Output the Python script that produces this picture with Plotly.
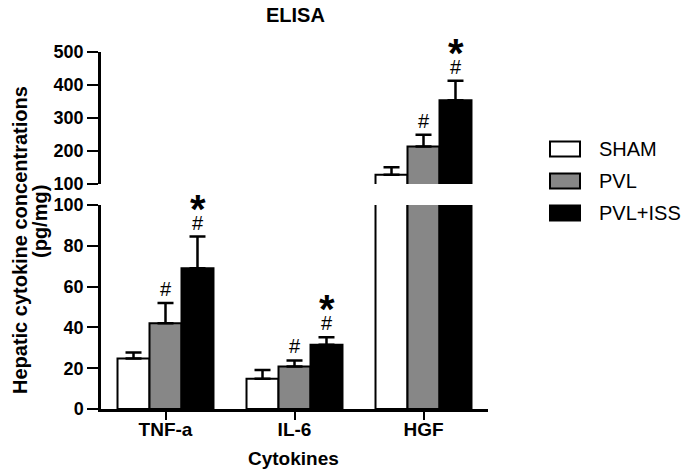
import plotly.graph_objects as go

categories = ["TNF-a", "IL-6", "HGF"]
groups = ["SHAM", "PVL", "PVL+ISS"]
sham = [24.7, 14.8, 128]
pvl = [42, 20.8, 214]
pvl_iss = [69, 31.5, 354]
sham_err = [3, 4.3, 23]
pvl_err = [10, 3, 35]
pvl_iss_err = [15.5, 3.7, 59]
hash_marks = {"PVL": [True, True, True], "PVL+ISS": [True, True, True]}
star_marks = {"PVL+ISS": [True, True, True]}
lower_ticks = [0, 20, 40, 60, 80, 100]
upper_ticks = [100, 200, 300, 400, 500]

values = {"SHAM": sham, "PVL": pvl, "PVL+ISS": pvl_iss}
errors = {"SHAM": sham_err, "PVL": pvl_err, "PVL+ISS": pvl_iss_err}
fills = {"SHAM": "#ffffff", "PVL": "#878787", "PVL+ISS": "#000000"}

FONT = "Liberation Sans, Arial, sans-serif"
BODY = 8  # page body margin offset
W, H = 696 - BODY, 476 - BODY
ML, MR, MT, MB = 101 - BODY, 208, 52 - BODY, 67
PW, PH = W - ML - MR, H - MT - MB
X0, Y0 = 101, 409  # plot-area origin in window pixels

fig = go.Figure()
for yax in ["y", "y2"]:
    for g in groups:
        fig.add_trace(go.Bar(
            x=categories, y=values[g], name=g,
            xaxis="x" if yax == "y" else "x2", yaxis=yax,
            marker=dict(color=fills[g], line=dict(color="black", width=2)),
            error_y=dict(type="data", array=errors[g], arrayminus=[0] * len(categories),
                         symmetric=False, color="black", thickness=2.5, width=8),
            showlegend=False, offsetgroup=g,
        ))

def px_to_px(px):
    return (px - X0) / PW

def py_to_py(py):
    return (Y0 - py) / PH

annotations = []
offsets = {"SHAM": -32, "PVL": 0, "PVL+ISS": 32}
for g in groups:
    for i, c in enumerate(categories):
        top = values[g][i] + errors[g][i]
        yref = "y2" if c == "HGF" else "y"
        if g in hash_marks and hash_marks[g][i]:
            annotations.append(dict(x=c, y=top, xref="x", yref=yref, text="#", showarrow=False,
                                    xshift=offsets[g], yshift=14, yanchor="middle",
                                    font=dict(family=FONT, size=20, color="black")))
        if g in star_marks and star_marks[g][i]:
            annotations.append(dict(x=c, y=top, xref="x", yref=yref, text="*", showarrow=False,
                                    xshift=offsets[g], yshift=28, yanchor="middle",
                                    font=dict(family=FONT, size=40, color="black", weight="bold")))

# titles
annotations.append(dict(x=px_to_px(295), y=py_to_py(15.5), xref="paper", yref="paper", text="ELISA",
                        showarrow=False, xanchor="center", yanchor="middle",
                        font=dict(family=FONT, size=20, color="black", weight="bold")))
annotations.append(dict(x=px_to_px(293), y=py_to_py(458), xref="paper", yref="paper", text="Cytokines",
                        showarrow=False, xanchor="center", yanchor="middle",
                        font=dict(family=FONT, size=19, color="black", weight="bold")))
annotations.append(dict(x=px_to_px(20), y=py_to_py(240), xref="paper", yref="paper",
                        text="Hepatic cytokine concentrations", textangle=-90,
                        showarrow=False, xanchor="center", yanchor="middle",
                        font=dict(family=FONT, size=20, color="black", weight="bold")))
annotations.append(dict(x=px_to_px(40), y=py_to_py(222), xref="paper", yref="paper",
                        text="(pg/mg)", textangle=-90,
                        showarrow=False, xanchor="center", yanchor="middle",
                        font=dict(family=FONT, size=20, color="black", weight="bold")))

# manual legend
shapes = []
legend_y = [149, 181, 213]
for g, ly in zip(groups, legend_y):
    shapes.append(dict(type="rect", xref="paper", yref="paper",
                       x0=px_to_px(550), x1=px_to_px(580), y0=py_to_py(ly + 7.5), y1=py_to_py(ly - 7.5),
                       fillcolor=fills[g], line=dict(color="black", width=2)))
    annotations.append(dict(x=px_to_px(597), y=py_to_py(ly), xref="paper", yref="paper", text=g,
                            showarrow=False, xanchor="left", yanchor="middle",
                            font=dict(family=FONT, size=20, color="black")))

lower_top = py_to_py(205)
upper_bot = py_to_py(184)

axis_common = dict(showline=True, linecolor="black", linewidth=2.5, ticks="outside",
                   tickcolor="black", tickwidth=2, showgrid=False, zeroline=False,
                   tickfont=dict(family=FONT, size=18, color="black", weight="bold"))

fig.update_layout(
    width=W, height=H,
    margin=dict(l=ML, r=MR, t=MT, b=MB, pad=0),
    paper_bgcolor="white", plot_bgcolor="white",
    barmode="group", bargap=0.256, bargroupgap=0,
    showlegend=False,
    xaxis=dict(domain=[0, 1], anchor="y", range=[-0.5, 2.5], type="category",
               categoryorder="array", categoryarray=categories, ticklabelstandoff=-7,
               **{**axis_common, "ticklen": 8,
                  "tickfont": dict(family=FONT, size=19, color="black", weight="bold")}),
    xaxis2=dict(domain=[0, 1], anchor="y2", range=[-0.5, 2.5], type="category",
                categoryorder="array", categoryarray=categories, matches="x", visible=False),
    yaxis=dict(domain=[0, lower_top], anchor="x", range=[0, 100], tickvals=lower_ticks,
               ticklen=11, **axis_common),
    yaxis2=dict(domain=[upper_bot, 1], anchor="x2", range=[100, 500], tickvals=upper_ticks,
                ticklen=11, **axis_common),
    annotations=annotations,
    shapes=shapes,
)

fig.write_html("out.html")
